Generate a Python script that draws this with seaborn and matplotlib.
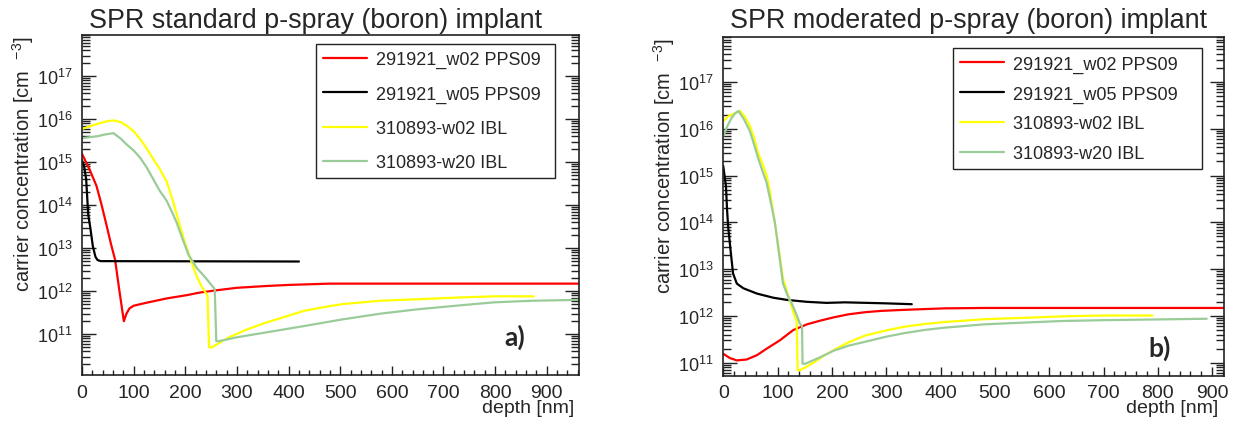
import numpy as np
import pandas as pd
import matplotlib
matplotlib.use("Agg")
import matplotlib.pyplot as plt
import seaborn as sns
from matplotlib.ticker import (FixedLocator, LogLocator, MultipleLocator,
                               LogFormatterSciNotation, NullFormatter)

sns.set_style("white")
plt.rcParams["font.family"] = ["Liberation Sans", "DejaVu Sans"]

# ---- panel a) standard p-spray ----
std_w02_depth = [0, 14, 28, 38, 48, 56, 64, 72, 81, 86, 92, 100, 125, 164, 203, 228, 260,
                 300, 356, 400, 480, 965]
std_w02_conc = [1.55e15, 7e14, 2.8e14, 1e14, 3.2e13, 1.26e13, 5.4e12, 1.1e12, 2.0e11, 3.0e11,
                4.0e11, 4.6e11, 5.4e11, 6.8e11, 8.1e11, 9.3e11, 1.05e12, 1.2e12, 1.32e12,
                1.4e12, 1.5e12, 1.5e12]

std_w05_depth = [0, 4, 8, 12, 16, 21, 26, 30, 36, 420]
std_w05_conc = [1.1e15, 8e14, 4e14, 6e13, 3e13, 1.1e13, 6.3e12, 5.3e12, 5e12, 4.9e12]

std_ibl02_depth = [0, 15, 35, 50, 61, 75, 86, 100, 112, 125, 138, 150, 164, 176, 189, 200,
                   210, 222, 232, 243, 246, 251, 283, 320, 356, 400, 430, 470, 503, 577,
                   650, 724, 797, 875]
std_ibl02_conc = [5.9e15, 6.8e15, 8.1e15, 9.0e15, 9.3e15, 8.5e15, 7.1e15, 5.2e15, 3.5e15,
                  2.1e15, 1.17e15, 7.1e14, 3.5e14, 1.26e14, 3.5e13, 1.26e13, 5.6e12, 2.2e12,
                  1.26e12, 7.9e11, 5.0e10, 4.9e10, 8.3e10, 1.3e11, 1.86e11, 2.7e11, 3.5e11,
                  4.3e11, 5.0e11, 6.0e11, 6.5e11, 7.1e11, 7.6e11, 7.6e11]

std_ibl20_depth = [0, 15, 30, 45, 61, 75, 86, 100, 112, 125, 138, 150, 164, 175, 183, 195,
                   206, 222, 240, 257, 260, 265, 300, 356, 430, 503, 577, 650, 724, 797,
                   871, 965]
std_ibl20_conc = [3.6e15, 3.8e15, 4.0e15, 4.4e15, 4.7e15, 3.5e15, 2.6e15, 1.86e15, 1.29e15,
                  7.6e14, 4.0e14, 2.2e14, 1.26e14, 6.6e13, 4.0e13, 1.6e13, 7.1e12, 3.5e12,
                  2.0e12, 1.12e12, 6.9e10, 6.9e10, 8.5e10, 1.1e11, 1.55e11, 2.2e11, 3.0e11,
                  3.8e11, 4.6e11, 5.5e11, 6.0e11, 6.3e11]

# ---- panel b) moderated p-spray ----
mod_w02_depth = [0, 12, 25, 43, 62, 80, 104, 129, 154, 178, 203, 230, 261, 290, 334, 407,
                 480, 925]
mod_w02_conc = [1.55e11, 1.26e11, 1.12e11, 1.17e11, 1.45e11, 2.0e11, 3.0e11, 5.0e11, 6.6e11,
                7.9e11, 9.3e11, 1.08e12, 1.2e12, 1.28e12, 1.35e12, 1.45e12, 1.48e12, 1.48e12]

mod_w05_depth = [0, 5, 7, 9, 14, 18, 25, 37, 62, 92, 117, 154, 190, 224, 297, 347]
mod_w05_conc = [1.6e15, 5.9e14, 1.86e14, 8.1e13, 2.2e13, 8.1e12, 4.9e12, 3.9e12, 3.0e12,
                2.45e12, 2.2e12, 2.0e12, 1.9e12, 1.95e12, 1.86e12, 1.78e12]

mod_ibl02_depth = [0, 8, 15, 23, 31, 40, 49, 57, 64, 72, 80, 86, 92, 100, 110, 122, 132,
                   135, 137, 141, 150, 166, 185, 203, 230, 261, 300, 334, 370, 407, 480,
                   553, 626, 699, 790]
mod_ibl02_conc = [1.45e16, 1.8e16, 2.0e16, 2.2e16, 2.4e16, 1.8e16, 1.15e16, 6.3e15, 3.1e15,
                  1.8e15, 9.8e14, 4.5e14, 1.6e14, 4.0e13, 6.3e12, 2.2e12, 9.5e11, 7.9e11,
                  6.9e10, 6.9e10, 7.8e10, 1.0e11, 1.4e11, 1.86e11, 2.7e11, 3.8e11, 4.9e11,
                  5.9e11, 6.7e11, 7.4e11, 8.5e11, 9.1e11, 9.8e11, 1.02e12, 1.02e12]

mod_ibl20_depth = [0, 7, 14, 21, 28, 38, 49, 57, 64, 72, 80, 88, 95, 103, 110, 118, 126,
                   134, 141, 145, 146, 151, 178, 203, 230, 261, 300, 334, 370, 407, 480,
                   553, 626, 699, 890]
mod_ibl20_conc = [6.9e15, 1.1e16, 1.6e16, 2.1e16, 2.4e16, 1.6e16, 8.9e15, 4.5e15, 2.4e15,
                  1.26e15, 6.9e14, 2.5e14, 1.0e14, 2.0e13, 4.9e12, 2.8e12, 1.86e12, 1.12e12,
                  6.9e11, 6.0e11, 9.5e10, 9.5e10, 1.3e11, 1.8e11, 2.3e11, 2.8e11, 3.6e11,
                  4.3e11, 5.0e11, 5.6e11, 6.6e11, 7.2e11, 7.8e11, 8.1e11, 8.7e11]

labels = ["291921_w02 PPS09", "291921_w05 PPS09", "310893-w02 IBL", "310893-w20 IBL"]
colors = ["#ff0000", "#000000", "#ffff00", "#99cc99"]
decades = [1e11, 1e12, 1e13, 1e14, 1e15, 1e16, 1e17]


def draw_panel(ax, series, xmax, ylim, title_x, title, tag, tag_pos, leg_box, leg_spacing):
    for (depth, conc), lab, col in zip(series, labels, colors):
        df = pd.DataFrame({"depth": depth, "conc": conc})
        sns.lineplot(data=df, x="depth", y="conc", ax=ax, color=col, label=lab,
                     lw=1.6, sort=False, estimator=None)
    ax.set_yscale("log")
    ax.set_xlim(0, xmax)
    ax.set_ylim(*ylim)
    ax.xaxis.set_major_locator(MultipleLocator(100))
    ax.xaxis.set_minor_locator(MultipleLocator(20))
    ax.yaxis.set_major_locator(FixedLocator(decades))
    ax.yaxis.set_major_formatter(LogFormatterSciNotation())
    ax.yaxis.set_minor_locator(LogLocator(base=10, subs=np.arange(2, 10), numticks=100))
    ax.yaxis.set_minor_formatter(NullFormatter())
    ax.tick_params(axis="x", which="both", direction="in", bottom=True, top=False,
                   labelsize=14, pad=6, color="#222222")
    ax.tick_params(axis="x", which="major", length=6.5, width=1)
    ax.tick_params(axis="x", which="minor", length=3.3, width=1)
    ax.tick_params(axis="y", which="both", direction="in", left=True, right=True,
                   labelsize=13, pad=7, color="#222222")
    ax.tick_params(axis="y", which="major", length=10, width=1)
    ax.tick_params(axis="y", which="minor", length=5.5, width=1)
    for sp in ax.spines.values():
        sp.set_color("#222222")
        sp.set_linewidth(1.2)

    ax.set_ylabel(r"carrier concentration [cm  $\mathdefault{^{-3}}$]", fontsize=14.5, loc="top")
    ax.yaxis.set_label_coords(-0.0925, 1.0)
    ax.set_xlabel("depth [nm]", fontsize=14, loc="right")
    ax.xaxis.set_label_coords(0.99, -0.068)

    ax.text(tag_pos[0], tag_pos[1], tag, transform=ax.transAxes, fontsize=19,
            fontweight="bold", family=["Lato", "DejaVu Sans"], ha="center", va="center")

    x0, x1, top = leg_box
    leg = ax.legend(loc="upper left", bbox_to_anchor=(x0, 0, x1 - x0, top), mode="expand",
                    borderaxespad=0, fontsize=13, handlelength=2.4, handletextpad=0.5,
                    labelspacing=leg_spacing, borderpad=0.4, fancybox=False, framealpha=1)
    leg.get_frame().set_edgecolor("#222222")
    leg.get_frame().set_linewidth(1.0)

    fig.text(title_x, 1 - 28 / 427, title, fontsize=19.4, ha="left", va="baseline")


fig = plt.figure(figsize=(12.41, 4.27), dpi=100)
ax1 = fig.add_axes([0.0661, 0.1183, 0.4007, 0.7974])
ax2 = fig.add_axes([0.5828, 0.1171, 0.4032, 0.7932])

draw_panel(ax1,
           [(std_w02_depth, std_w02_conc), (std_w05_depth, std_w05_conc),
            (std_ibl02_depth, std_ibl02_conc), (std_ibl20_depth, std_ibl20_conc)],
           963, (1.1e10, 9e17), 89.3 / 1241, "SPR standard p-spray (boron) implant", "a)",
           (0.871, 0.1145), (0.4705, 0.951, 0.9736), 0.95)

draw_panel(ax2,
           [(mod_w02_depth, mod_w02_conc), (mod_w05_depth, mod_w05_conc),
            (mod_ibl02_depth, mod_ibl02_conc), (mod_ibl20_depth, mod_ibl20_conc)],
           921, (5.2e10, 9e17), 730 / 1241, "SPR moderated p-spray (boron) implant", "b)",
           (0.871, 0.084), (0.4596, 0.956, 0.9675), 0.7)

fig.savefig("out.png", dpi=100)
